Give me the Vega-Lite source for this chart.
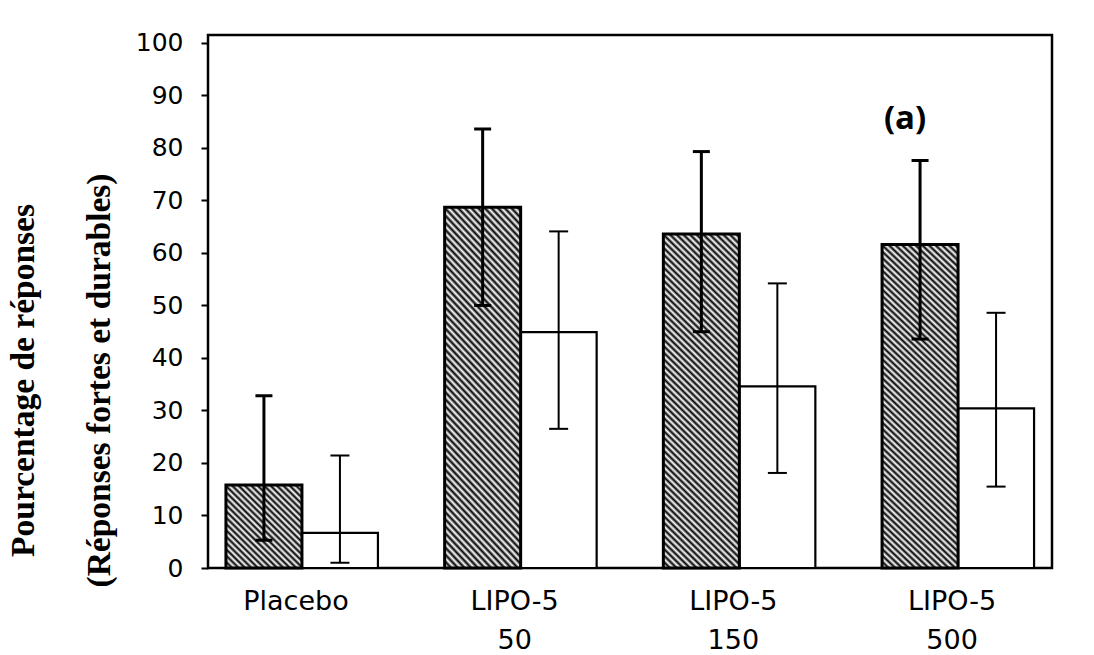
{
  "$schema": "https://vega.github.io/schema/vega-lite/v6.json",
  "width": 844,
  "height": 533,
  "autosize": "none",
  "padding": {"left": 208, "top": 35, "right": 42, "bottom": 87},
  "background": "white",
  "config": {
    "view": {"stroke": "black", "strokeWidth": 2.5},
    "axis": {"grid": false},
    "axisY": {
      "domain": false,
      "ticks": true,
      "tickSize": 7,
      "tickWidth": 2,
      "tickColor": "black",
      "labelFont": "DejaVu Sans",
      "labelFontSize": 25,
      "labelColor": "black",
      "labelPadding": 18,
      "titleFont": "Liberation Serif",
      "titleFontWeight": "bold",
      "titleFontSize": 33.5,
      "titleColor": "black",
      "titleAngle": 270,
      "titleAlign": "center",
      "titleBaseline": "middle",
      "titleLineHeight": 76,
      "titleX": -185,
      "titleY": 345
    }
  },
  "data": {
    "values": [
      {"group": "Placebo", "series": "S", "value": 15.8, "lo": 5.3, "hi": 32.8},
      {"group": "Placebo", "series": "W", "value": 6.7, "lo": 1.0, "hi": 21.4},
      {"group": "LIPO-5 50", "series": "S", "value": 68.7, "lo": 50.0, "hi": 83.6},
      {"group": "LIPO-5 50", "series": "W", "value": 44.9, "lo": 26.5, "hi": 64.1},
      {"group": "LIPO-5 150", "series": "S", "value": 63.6, "lo": 45.0, "hi": 79.3},
      {"group": "LIPO-5 150", "series": "W", "value": 34.6, "lo": 18.1, "hi": 54.2},
      {"group": "LIPO-5 500", "series": "S", "value": 61.6, "lo": 43.6, "hi": 77.6},
      {"group": "LIPO-5 500", "series": "W", "value": 30.4, "lo": 15.5, "hi": 48.6}
    ]
  },
  "encoding": {
    "x": {
      "field": "group",
      "type": "nominal",
      "sort": ["Placebo", "LIPO-5 50", "LIPO-5 150", "LIPO-5 500"],
      "scale": {"paddingInner": 0.305, "paddingOuter": 0.082},
      "axis": {
        "title": null,
        "ticks": false,
        "domain": false,
        "labelAngle": 0,
        "labelExpr": "split(datum.label, ' ')",
        "labelFont": "DejaVu Sans",
        "labelFontSize": 27,
        "labelColor": "black",
        "labelLineHeight": 39,
        "labelPadding": 20,
        "labelOffset": -6,
        "labelBaseline": "top",
        "labelOverlap": false
      }
    }
  },
  "layer": [
    {
      "transform": [{"filter": "datum.series == 'W'"}],
      "mark": {"type": "bar", "fill": "white", "stroke": "black", "strokeWidth": 2.2},
      "encoding": {
        "xOffset": {"field": "series", "type": "nominal", "scale": {"domain": ["S", "W"], "paddingInner": 0, "paddingOuter": 0}},
        "y": {
          "field": "value",
          "type": "quantitative",
          "scale": {"domain": [0, 101.5], "nice": false, "zero": true},
          "axis": {"values": [0, 10, 20, 30, 40, 50, 60, 70, 80, 90, 100], "title": ["Pourcentage de réponses", "(Réponses fortes et durables)"]}
        }
      }
    },
    {
      "transform": [{"filter": "datum.series == 'S' && datum.group == 'Placebo'"}],
      "mark": {
        "type": "bar",
        "stroke": "black",
        "strokeWidth": 3,
        "fill": {
          "gradient": "linear",
          "x1": 0, "y1": 1, "x2": 0.9476, "y2": -0.0474,
          "stops": [
            {"offset": 0, "color": "#000"}, {"offset": 0.02, "color": "#fff"},
            {"offset": 0.04, "color": "#000"}, {"offset": 0.06, "color": "#fff"},
            {"offset": 0.08, "color": "#000"}, {"offset": 0.1, "color": "#fff"},
            {"offset": 0.12, "color": "#000"}, {"offset": 0.14, "color": "#fff"},
            {"offset": 0.16, "color": "#000"}, {"offset": 0.18, "color": "#fff"},
            {"offset": 0.2, "color": "#000"}, {"offset": 0.22, "color": "#fff"},
            {"offset": 0.24, "color": "#000"}, {"offset": 0.26, "color": "#fff"},
            {"offset": 0.28, "color": "#000"}, {"offset": 0.3, "color": "#fff"},
            {"offset": 0.32, "color": "#000"}, {"offset": 0.34, "color": "#fff"},
            {"offset": 0.36, "color": "#000"}, {"offset": 0.38, "color": "#fff"},
            {"offset": 0.4, "color": "#000"}, {"offset": 0.42, "color": "#fff"},
            {"offset": 0.44, "color": "#000"}, {"offset": 0.46, "color": "#fff"},
            {"offset": 0.48, "color": "#000"}, {"offset": 0.5, "color": "#fff"},
            {"offset": 0.52, "color": "#000"}, {"offset": 0.54, "color": "#fff"},
            {"offset": 0.56, "color": "#000"}, {"offset": 0.58, "color": "#fff"},
            {"offset": 0.6, "color": "#000"}, {"offset": 0.62, "color": "#fff"},
            {"offset": 0.64, "color": "#000"}, {"offset": 0.66, "color": "#fff"},
            {"offset": 0.68, "color": "#000"}, {"offset": 0.7, "color": "#fff"},
            {"offset": 0.72, "color": "#000"}, {"offset": 0.74, "color": "#fff"},
            {"offset": 0.76, "color": "#000"}, {"offset": 0.78, "color": "#fff"},
            {"offset": 0.8, "color": "#000"}, {"offset": 0.82, "color": "#fff"},
            {"offset": 0.84, "color": "#000"}, {"offset": 0.86, "color": "#fff"},
            {"offset": 0.88, "color": "#000"}, {"offset": 0.9, "color": "#fff"},
            {"offset": 0.92, "color": "#000"}, {"offset": 0.94, "color": "#fff"},
            {"offset": 0.96, "color": "#000"}, {"offset": 0.98, "color": "#fff"},
            {"offset": 1, "color": "#000"}
          ]
        }
      },
      "encoding": {
        "xOffset": {"field": "series", "type": "nominal", "scale": {"domain": ["S", "W"], "paddingInner": 0, "paddingOuter": 0}},
        "y": {"field": "value", "type": "quantitative", "scale": {"domain": [0, 101.5], "nice": false}, "axis": {"values": [0, 10, 20, 30, 40, 50, 60, 70, 80, 90, 100], "title": ["Pourcentage de réponses", "(Réponses fortes et durables)"]}}
      }
    },
    {
      "transform": [{"filter": "datum.series == 'S' && datum.group != 'Placebo'"}],
      "mark": {
        "type": "bar",
        "stroke": "black",
        "strokeWidth": 3,
        "fill": {
          "gradient": "linear",
          "x1": 0, "y1": 1, "x2": 0.2605, "y2": -0.1653,
          "stops": [
            {"offset": 0, "color": "#000"}, {"offset": 0.008, "color": "#fff"},
            {"offset": 0.016, "color": "#000"}, {"offset": 0.024, "color": "#fff"},
            {"offset": 0.032, "color": "#000"}, {"offset": 0.04, "color": "#fff"},
            {"offset": 0.048, "color": "#000"}, {"offset": 0.056, "color": "#fff"},
            {"offset": 0.064, "color": "#000"}, {"offset": 0.072, "color": "#fff"},
            {"offset": 0.08, "color": "#000"}, {"offset": 0.088, "color": "#fff"},
            {"offset": 0.096, "color": "#000"}, {"offset": 0.104, "color": "#fff"},
            {"offset": 0.112, "color": "#000"}, {"offset": 0.12, "color": "#fff"},
            {"offset": 0.128, "color": "#000"}, {"offset": 0.136, "color": "#fff"},
            {"offset": 0.144, "color": "#000"}, {"offset": 0.152, "color": "#fff"},
            {"offset": 0.16, "color": "#000"}, {"offset": 0.168, "color": "#fff"},
            {"offset": 0.176, "color": "#000"}, {"offset": 0.184, "color": "#fff"},
            {"offset": 0.192, "color": "#000"}, {"offset": 0.2, "color": "#fff"},
            {"offset": 0.208, "color": "#000"}, {"offset": 0.216, "color": "#fff"},
            {"offset": 0.224, "color": "#000"}, {"offset": 0.232, "color": "#fff"},
            {"offset": 0.24, "color": "#000"}, {"offset": 0.248, "color": "#fff"},
            {"offset": 0.256, "color": "#000"}, {"offset": 0.264, "color": "#fff"},
            {"offset": 0.272, "color": "#000"}, {"offset": 0.28, "color": "#fff"},
            {"offset": 0.288, "color": "#000"}, {"offset": 0.296, "color": "#fff"},
            {"offset": 0.304, "color": "#000"}, {"offset": 0.312, "color": "#fff"},
            {"offset": 0.32, "color": "#000"}, {"offset": 0.328, "color": "#fff"},
            {"offset": 0.336, "color": "#000"}, {"offset": 0.344, "color": "#fff"},
            {"offset": 0.352, "color": "#000"}, {"offset": 0.36, "color": "#fff"},
            {"offset": 0.368, "color": "#000"}, {"offset": 0.376, "color": "#fff"},
            {"offset": 0.384, "color": "#000"}, {"offset": 0.392, "color": "#fff"},
            {"offset": 0.4, "color": "#000"}, {"offset": 0.408, "color": "#fff"},
            {"offset": 0.416, "color": "#000"}, {"offset": 0.424, "color": "#fff"},
            {"offset": 0.432, "color": "#000"}, {"offset": 0.44, "color": "#fff"},
            {"offset": 0.448, "color": "#000"}, {"offset": 0.456, "color": "#fff"},
            {"offset": 0.464, "color": "#000"}, {"offset": 0.472, "color": "#fff"},
            {"offset": 0.48, "color": "#000"}, {"offset": 0.488, "color": "#fff"},
            {"offset": 0.496, "color": "#000"}, {"offset": 0.504, "color": "#fff"},
            {"offset": 0.512, "color": "#000"}, {"offset": 0.52, "color": "#fff"},
            {"offset": 0.528, "color": "#000"}, {"offset": 0.536, "color": "#fff"},
            {"offset": 0.544, "color": "#000"}, {"offset": 0.552, "color": "#fff"},
            {"offset": 0.56, "color": "#000"}, {"offset": 0.568, "color": "#fff"},
            {"offset": 0.576, "color": "#000"}, {"offset": 0.584, "color": "#fff"},
            {"offset": 0.592, "color": "#000"}, {"offset": 0.6, "color": "#fff"},
            {"offset": 0.608, "color": "#000"}, {"offset": 0.616, "color": "#fff"},
            {"offset": 0.624, "color": "#000"}, {"offset": 0.632, "color": "#fff"},
            {"offset": 0.64, "color": "#000"}, {"offset": 0.648, "color": "#fff"},
            {"offset": 0.656, "color": "#000"}, {"offset": 0.664, "color": "#fff"},
            {"offset": 0.672, "color": "#000"}, {"offset": 0.68, "color": "#fff"},
            {"offset": 0.688, "color": "#000"}, {"offset": 0.696, "color": "#fff"},
            {"offset": 0.704, "color": "#000"}, {"offset": 0.712, "color": "#fff"},
            {"offset": 0.72, "color": "#000"}, {"offset": 0.728, "color": "#fff"},
            {"offset": 0.736, "color": "#000"}, {"offset": 0.744, "color": "#fff"},
            {"offset": 0.752, "color": "#000"}, {"offset": 0.76, "color": "#fff"},
            {"offset": 0.768, "color": "#000"}, {"offset": 0.776, "color": "#fff"},
            {"offset": 0.784, "color": "#000"}, {"offset": 0.792, "color": "#fff"},
            {"offset": 0.8, "color": "#000"}, {"offset": 0.808, "color": "#fff"},
            {"offset": 0.816, "color": "#000"}, {"offset": 0.824, "color": "#fff"},
            {"offset": 0.832, "color": "#000"}, {"offset": 0.84, "color": "#fff"},
            {"offset": 0.848, "color": "#000"}, {"offset": 0.856, "color": "#fff"},
            {"offset": 0.864, "color": "#000"}, {"offset": 0.872, "color": "#fff"},
            {"offset": 0.88, "color": "#000"}, {"offset": 0.888, "color": "#fff"},
            {"offset": 0.896, "color": "#000"}, {"offset": 0.904, "color": "#fff"},
            {"offset": 0.912, "color": "#000"}, {"offset": 0.92, "color": "#fff"},
            {"offset": 0.928, "color": "#000"}, {"offset": 0.936, "color": "#fff"},
            {"offset": 0.944, "color": "#000"}, {"offset": 0.952, "color": "#fff"},
            {"offset": 0.96, "color": "#000"}, {"offset": 0.968, "color": "#fff"},
            {"offset": 0.976, "color": "#000"}, {"offset": 0.984, "color": "#fff"},
            {"offset": 0.992, "color": "#000"}, {"offset": 1, "color": "#fff"}
          ]
        }
      },
      "encoding": {
        "xOffset": {"field": "series", "type": "nominal", "scale": {"domain": ["S", "W"], "paddingInner": 0, "paddingOuter": 0}},
        "y": {"field": "value", "type": "quantitative", "scale": {"domain": [0, 101.5], "nice": false}, "axis": {"values": [0, 10, 20, 30, 40, 50, 60, 70, 80, 90, 100], "title": ["Pourcentage de réponses", "(Réponses fortes et durables)"]}}
      }
    },
    {
      "transform": [{"filter": "datum.series == 'S'"}],
      "mark": {"type": "rule", "color": "black", "strokeWidth": 3},
      "encoding": {
        "xOffset": {"field": "series", "type": "nominal", "scale": {"domain": ["S", "W"], "paddingInner": 0, "paddingOuter": 0}},
        "y": {"field": "lo", "type": "quantitative", "scale": {"domain": [0, 101.5], "nice": false}, "axis": {"values": [0, 10, 20, 30, 40, 50, 60, 70, 80, 90, 100], "title": ["Pourcentage de réponses", "(Réponses fortes et durables)"]}},
        "y2": {"field": "hi"}
      }
    },
    {
      "transform": [{"filter": "datum.series == 'W'"}],
      "mark": {"type": "rule", "color": "black", "strokeWidth": 2},
      "encoding": {
        "xOffset": {"field": "series", "type": "nominal", "scale": {"domain": ["S", "W"], "paddingInner": 0, "paddingOuter": 0}},
        "y": {"field": "lo", "type": "quantitative", "scale": {"domain": [0, 101.5], "nice": false}, "axis": {"values": [0, 10, 20, 30, 40, 50, 60, 70, 80, 90, 100], "title": ["Pourcentage de réponses", "(Réponses fortes et durables)"]}},
        "y2": {"field": "hi"}
      }
    },
    {
      "transform": [{"filter": "datum.series == 'S'"}],
      "mark": {"type": "tick", "color": "black", "size": 17, "thickness": 3, "opacity": 1},
      "encoding": {
        "xOffset": {"field": "series", "type": "nominal", "scale": {"domain": ["S", "W"], "paddingInner": 0, "paddingOuter": 0}},
        "y": {"field": "lo", "type": "quantitative", "scale": {"domain": [0, 101.5], "nice": false}, "axis": {"values": [0, 10, 20, 30, 40, 50, 60, 70, 80, 90, 100], "title": ["Pourcentage de réponses", "(Réponses fortes et durables)"]}}
      }
    },
    {
      "transform": [{"filter": "datum.series == 'S'"}],
      "mark": {"type": "tick", "color": "black", "size": 17, "thickness": 3, "opacity": 1},
      "encoding": {
        "xOffset": {"field": "series", "type": "nominal", "scale": {"domain": ["S", "W"], "paddingInner": 0, "paddingOuter": 0}},
        "y": {"field": "hi", "type": "quantitative", "scale": {"domain": [0, 101.5], "nice": false}, "axis": {"values": [0, 10, 20, 30, 40, 50, 60, 70, 80, 90, 100], "title": ["Pourcentage de réponses", "(Réponses fortes et durables)"]}}
      }
    },
    {
      "transform": [{"filter": "datum.series == 'W'"}],
      "mark": {"type": "tick", "color": "black", "size": 19, "thickness": 2, "opacity": 1},
      "encoding": {
        "xOffset": {"field": "series", "type": "nominal", "scale": {"domain": ["S", "W"], "paddingInner": 0, "paddingOuter": 0}},
        "y": {"field": "lo", "type": "quantitative", "scale": {"domain": [0, 101.5], "nice": false}, "axis": {"values": [0, 10, 20, 30, 40, 50, 60, 70, 80, 90, 100], "title": ["Pourcentage de réponses", "(Réponses fortes et durables)"]}}
      }
    },
    {
      "transform": [{"filter": "datum.series == 'W'"}],
      "mark": {"type": "tick", "color": "black", "size": 19, "thickness": 2, "opacity": 1},
      "encoding": {
        "xOffset": {"field": "series", "type": "nominal", "scale": {"domain": ["S", "W"], "paddingInner": 0, "paddingOuter": 0}},
        "y": {"field": "hi", "type": "quantitative", "scale": {"domain": [0, 101.5], "nice": false}, "axis": {"values": [0, 10, 20, 30, 40, 50, 60, 70, 80, 90, 100], "title": ["Pourcentage de réponses", "(Réponses fortes et durables)"]}}
      }
    },
    {
      "data": {"values": [{"group": "LIPO-5 500", "label": "(a)", "pos": 85.5}]},
      "mark": {"type": "text", "font": "Open Sans", "fontWeight": "bold", "fontSize": 33, "color": "black", "dx": -53, "baseline": "middle", "align": "center"},
      "encoding": {
        "y": {"field": "pos", "type": "quantitative", "scale": {"domain": [0, 101.5], "nice": false}, "axis": {"values": [0, 10, 20, 30, 40, 50, 60, 70, 80, 90, 100], "title": ["Pourcentage de réponses", "(Réponses fortes et durables)"]}},
        "text": {"field": "label"}
      }
    }
  ]
}
